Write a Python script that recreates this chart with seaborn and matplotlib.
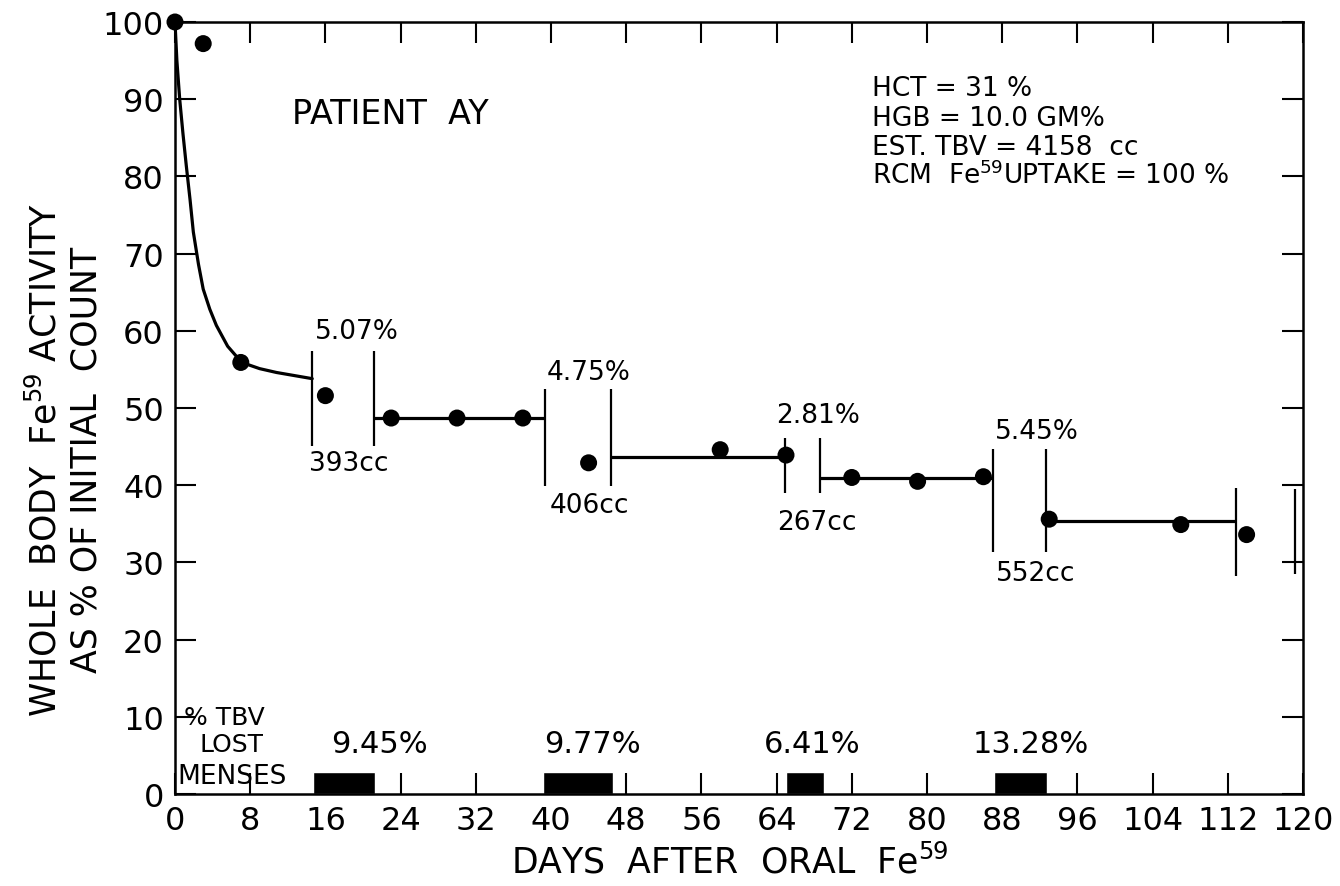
import matplotlib
matplotlib.use("Agg")
import matplotlib.pyplot as plt
import pandas as pd
import seaborn as sns

# measured whole body counts
days = [0, 3, 7, 16, 23, 30, 37, 44, 58, 65, 72, 79, 86, 93, 107, 114]
activity = [100, 97.2, 55.9, 51.6, 48.7, 48.7, 48.7, 42.9, 44.6, 43.9,
            41.0, 40.5, 41.1, 35.6, 34.9, 33.6]

# hand-drawn early clearance curve
curve_days = [0, 0.2, 0.5, 0.85, 1.2, 1.6, 1.95, 2.5, 3.0, 3.7, 4.4, 5.6, 7.1, 9.0, 10.8, 14.6]
curve_activity = [100, 95.0, 90.0, 85.5, 81.4, 77.0, 72.8, 68.6, 65.4, 62.8, 60.7, 58.0,
                  55.9, 55.1, 54.6, 53.8]

# plateau levels between bleeds
level_start = [21.2, 46.4, 68.6, 92.7]
level_end = [39.4, 64.9, 87.05, 112.9]
level_value = [48.7, 43.6, 40.9, 35.3]

# vertical bracket marks
bracket_x = [14.6, 21.2, 39.4, 46.4, 64.9, 68.6, 87.05, 92.7, 112.9, 119.1]
bracket_low = [45.1, 45.1, 39.9, 39.9, 39.0, 39.0, 31.3, 31.3, 28.3, 28.5]
bracket_high = [57.4, 57.4, 52.5, 52.5, 46.1, 46.1, 44.7, 44.7, 39.6, 39.5]

bleed_pct = ["5.07%", "4.75%", "2.81%", "5.45%"]
bleed_cc = ["393cc", "406cc", "267cc", "552cc"]
bleed_pct_pos = [(19.3, 60.0), (44.0, 54.7), (68.4, 49.1), (91.7, 47.0)]
bleed_cc_pos = [(18.5, 42.9), (44.1, 37.4), (68.3, 35.2), (91.6, 28.6)]

# menses periods
menses_start = [14.7, 39.2, 65.0, 87.1]
menses_end = [21.3, 46.6, 69.0, 92.8]
menses_height = 2.8
tbv_lost = ["9.45%", "9.77%", "6.41%", "13.28%"]
tbv_lost_x = [21.7, 44.4, 67.8, 91.0]

x_ticks = list(range(0, 121, 8))
y_ticks = list(range(0, 101, 10))

info_lines = ["HCT = 31 %", "HGB = 10.0 GM%", "EST. TBV = 4158  cc",
              "RCM  Fe$^{59}$UPTAKE = 100 %"]
info_y = [91.4, 87.6, 83.8, 80.2]

sns.set_style("ticks")
plt.rcParams["font.family"] = ["DejaVu Sans"]
plt.rcParams.update({"text.color": "black", "axes.labelcolor": "black",
                     "xtick.color": "black", "ytick.color": "black"})

fig = plt.figure(figsize=(13.4, 8.87), dpi=100)
ax = fig.add_axes([175 / 1340, 1 - 795 / 887, 1128 / 1340, 772 / 887])

pts = pd.DataFrame({"day": days, "activity": activity})
curve = pd.DataFrame({"day": curve_days, "activity": curve_activity})

sns.lineplot(data=curve, x="day", y="activity", color="black", linewidth=2.3,
             estimator=None, ax=ax)
ax.hlines(level_value, level_start, level_end, color="black", linewidth=2.3)
ax.vlines(bracket_x, bracket_low, bracket_high, color="black", linewidth=1.6)
sns.scatterplot(data=pts, x="day", y="activity", color="black", s=150,
                edgecolor="none", ax=ax, zorder=5, clip_on=False)

widths = [e - s for s, e in zip(menses_start, menses_end)]
ax.bar(menses_start, menses_height, width=widths, align="edge", color="black")

for lab, (x, y) in zip(bleed_pct, bleed_pct_pos):
    ax.text(x, y, lab, ha="center", va="center", fontsize=19)
for lab, (x, y) in zip(bleed_cc, bleed_cc_pos):
    ax.text(x, y, lab, ha="center", va="center", fontsize=19)
for lab, x in zip(tbv_lost, tbv_lost_x):
    ax.text(x, 6.5, lab, ha="center", va="center", fontsize=22)

ax.text(1.0, 10.0, "% TBV", ha="left", va="center", fontsize=18)
ax.text(2.6, 6.5, "LOST", ha="left", va="center", fontsize=18)
ax.text(0.3, 2.3, "MENSES", ha="left", va="center", fontsize=19)
ax.text(12.4, 88.1, "PATIENT  AY", ha="left", va="center", fontsize=24)
for line, y in zip(info_lines, info_y):
    ax.text(74.1, y, line, ha="left", va="center", fontsize=19)

ax.set_xlim(0, 120)
ax.set_ylim(0, 100)
ax.set_xticks(x_ticks)
ax.set_yticks(y_ticks)
ax.tick_params(direction="in", top=True, right=True, length=15, width=1.5,
               labelsize=23, pad=8)
for sp in ax.spines.values():
    sp.set_linewidth(1.8)
    sp.set_color("black")

ax.set_xlabel("DAYS  AFTER  ORAL  Fe$^{59}$", fontsize=25, va="center")
ax.xaxis.set_label_coords(0.492, -0.087)
ax.set_ylabel("WHOLE  BODY  Fe$^{59}$ ACTIVITY\nAS % OF INITIAL  COUNT",
              fontsize=25, va="center", linespacing=1.2)
ax.yaxis.set_label_coords(-0.097, 0.434)

fig.savefig("out.png", dpi=100)
